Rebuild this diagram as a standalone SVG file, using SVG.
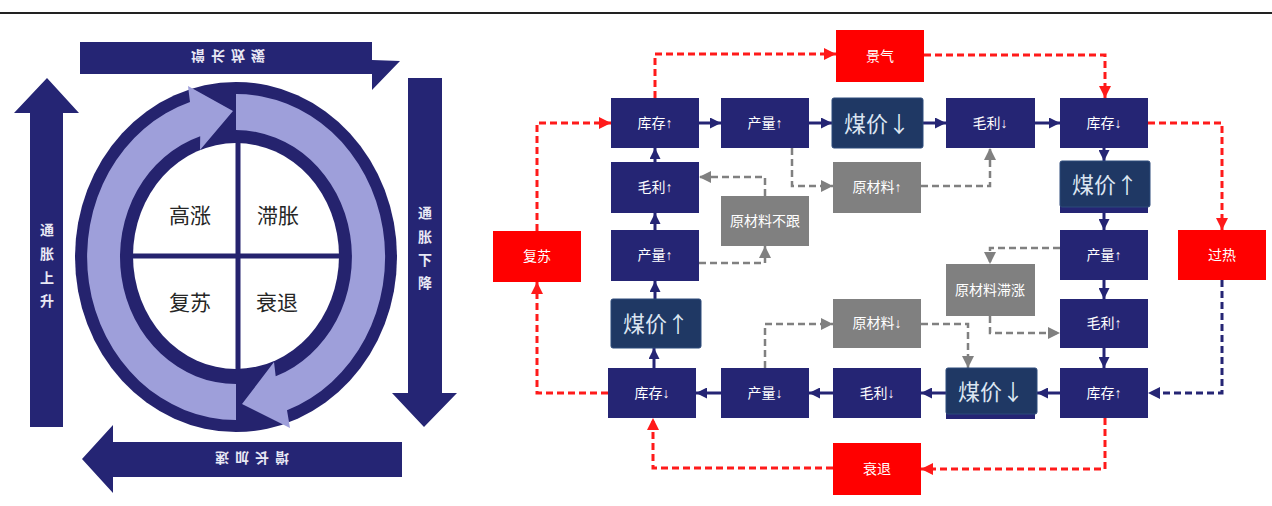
<svg xmlns="http://www.w3.org/2000/svg" width="1272" height="506" viewBox="0 0 1272 506">
<style>
.nv{fill:#252574}
.cp{fill:#1f3864;stroke:#2d4a7a;stroke-width:1}
.gr{fill:#808080}
.rd{fill:#ff0000}
.t{font-family:"Liberation Sans","Noto Sans CJK SC",sans-serif;font-size:14px;fill:#ffffff;text-anchor:middle;dominant-baseline:central}
.tb{font-family:"Noto Sans CJK SC","Liberation Sans",sans-serif;font-size:22px;fill:#dce6f2;text-anchor:middle;dominant-baseline:central}
.q{font-family:"Noto Sans CJK SC",sans-serif;font-size:21px;fill:#262626;text-anchor:middle;dominant-baseline:central}
.at{font-family:"Noto Sans CJK SC",sans-serif;font-size:14px;font-weight:bold;fill:#e8e8f4;text-anchor:middle;dominant-baseline:central}
.s{fill:none;stroke:#252574;stroke-width:3;marker-end:url(#mn)}
.r{fill:none;stroke:#ff1a1a;stroke-width:3;stroke-dasharray:7 4;marker-end:url(#mr)}
.g{fill:none;stroke:#808080;stroke-width:2.5;stroke-dasharray:7 4;marker-end:url(#mg)}
.d{fill:none;stroke:#252574;stroke-width:3;stroke-dasharray:7 4;marker-end:url(#md)}
</style>
<defs>
<marker id="mn" markerUnits="userSpaceOnUse" markerWidth="11" markerHeight="11" refX="11" refY="5.5" orient="auto"><path d="M0,0 L11,5.5 L0,11 z" fill="#252574"/></marker>
<marker id="mr" markerUnits="userSpaceOnUse" markerWidth="12" markerHeight="12" refX="12" refY="6" orient="auto"><path d="M0,0 L12,6 L0,12 z" fill="#ff1a1a"/></marker>
<marker id="mg" markerUnits="userSpaceOnUse" markerWidth="12" markerHeight="12" refX="12" refY="6" orient="auto"><path d="M0,0 L12,6 L0,12 z" fill="#808080"/></marker>
<marker id="md" markerUnits="userSpaceOnUse" markerWidth="12" markerHeight="12" refX="12" refY="6" orient="auto"><path d="M0,0 L12,6 L0,12 z" fill="#252574"/></marker>
</defs>
<rect width="1272" height="506" fill="#ffffff"/>
<line x1="0" y1="13" x2="1272" y2="13" stroke="#222222" stroke-width="2"/>

<!-- Left: clock diagram -->
<g id="clock">
<polygon class="nv" points="80,42 372,42 372,60 400,61 372,90 372,74 80,74"/>
<text class="at" transform="translate(231,57) scale(1,-1)" letter-spacing="6">增长放缓</text>
<polygon class="nv" points="408,78 442,78 442,393 457,393 424,427 392,393 408,393"/>
<g class="at"><text x="425" y="212">通</text><text x="425" y="236">胀</text><text x="425" y="259">下</text><text x="425" y="282">降</text></g>
<polygon class="nv" points="402,442 402,477 113,477 113,493 82,459 113,425 113,442"/>
<text class="at" transform="translate(249,459) rotate(180)" letter-spacing="6">增长加速</text>
<polygon class="nv" points="30,427 30,113 14,113 47,78 79,113 63,113 63,427"/>
<g class="at"><text x="47" y="229">通</text><text x="47" y="253">胀</text><text x="47" y="277">上</text><text x="47" y="300">升</text></g>
<ellipse cx="236" cy="257" rx="161" ry="175" fill="#25236e"/>
<path d="M236,420 A149,163 0 0 1 190,102 L188,86 L233,111 L200,150 L200.2,136.2 A116,127 0 0 0 236,384 Z" fill="#9e9fda"/>
<path d="M236,94 A149,163 0 0 1 287,410.2 L290,428 L242,404 L274,362 L275.7,376.3 A116,127 0 0 0 236,130 Z" fill="#9e9fda"/>
<ellipse cx="236" cy="256" rx="103" ry="113" fill="#ffffff"/>
<line x1="238" y1="143" x2="238" y2="369" stroke="#25236e" stroke-width="5"/>
<line x1="133" y1="256" x2="339" y2="256" stroke="#25236e" stroke-width="5"/>
<text class="q" x="190" y="214">高涨</text>
<text class="q" x="278" y="214">滞胀</text>
<text class="q" x="190" y="301">复苏</text>
<text class="q" x="277" y="301">衰退</text>
</g>

<!-- Right: flow diagram connectors -->
<g id="connectors">
<path class="s" d="M699,123 H721"/>
<path class="s" d="M809,123 H832"/>
<path class="s" d="M923,123 H946"/>
<path class="s" d="M1035,123 H1060"/>
<path class="s" d="M1104,148 V161"/>
<path class="s" d="M1104,213 V230"/>
<path class="s" d="M1104,280 V299"/>
<path class="s" d="M1104,348 V368"/>
<path class="s" d="M1060,393 H1037"/>
<path class="s" d="M946,393 H921"/>
<path class="s" d="M833,393 H809"/>
<path class="s" d="M721,393 H696"/>
<path class="s" d="M654,368 V348"/>
<path class="s" d="M655,299 V281"/>
<path class="s" d="M655,230 V213"/>
<path class="s" d="M655,162 V148"/>
<path class="r" d="M655,98 V54 H836"/>
<path class="r" d="M537,231 V123 H611"/>
<path class="r" d="M924,55 H1105 V98"/>
<path class="r" d="M1148,123 H1222 V230"/>
<path class="d" d="M1222,280 V393 H1148"/>
<path class="r" d="M1105,418 V469 H921"/>
<path class="r" d="M833,468 H653 V418"/>
<path class="r" d="M608,393 H537 V282"/>
<path class="g" d="M792,148 V186 H833"/>
<path class="g" d="M921,186 H990 V148"/>
<path class="g" d="M765,196 V177 H699"/>
<path class="g" d="M699,263 H765 V246"/>
<path class="g" d="M1060,248 H990 V264"/>
<path class="g" d="M990,316 V333 H1060"/>
<path class="g" d="M765,368 V324 H833"/>
<path class="g" d="M921,324 H968 V368"/>
</g>

<!-- Nodes -->
<g id="n-jingqi"><rect class="rd" x="836" y="30" width="88" height="52"/><text class="t" x="880" y="56">景气</text></g>
<g id="n-guore"><rect class="rd" x="1178" y="230" width="88" height="50"/><text class="t" x="1222" y="255">过热</text></g>
<g id="n-shuaitui"><rect class="rd" x="833" y="443" width="88" height="52"/><text class="t" x="877" y="469">衰退</text></g>
<g id="n-fusu"><rect class="rd" x="493" y="231" width="88" height="51"/><text class="t" x="537" y="256">复苏</text></g>

<g id="n-kc1"><rect class="nv" x="611" y="98" width="88" height="50"/><text class="t" x="655" y="123">库存↑</text></g>
<g id="n-cl1"><rect class="nv" x="721" y="98" width="88" height="50"/><text class="t" x="765" y="123">产量↑</text></g>
<g id="n-mj1"><rect class="cp" x="832" y="98" width="91" height="50" rx="2"/><text class="tb" x="877" y="122">煤价↓</text></g>
<g id="n-ml1"><rect class="nv" x="946" y="98" width="89" height="50"/><text class="t" x="990" y="123">毛利↓</text></g>
<g id="n-kc2"><rect class="nv" x="1060" y="98" width="88" height="50"/><text class="t" x="1104" y="123">库存↓</text></g>
<g id="n-mj2"><rect class="nv" x="1060" y="200" width="88" height="13"/><rect class="cp" x="1060" y="161" width="90" height="46" rx="2"/><text class="tb" x="1105" y="183">煤价↑</text></g>
<g id="n-cl2"><rect class="nv" x="1060" y="230" width="88" height="50"/><text class="t" x="1104" y="255">产量↑</text></g>
<g id="n-ml2"><rect class="nv" x="1060" y="299" width="88" height="49"/><text class="t" x="1104" y="323">毛利↑</text></g>
<g id="n-kc3"><rect class="nv" x="1060" y="368" width="88" height="50"/><text class="t" x="1104" y="393">库存↑</text></g>
<g id="n-mj3"><rect class="nv" x="946" y="405" width="89" height="14"/><rect class="cp" x="946" y="368" width="91" height="46" rx="2"/><text class="tb" x="991" y="390">煤价↓</text></g>
<g id="n-ml3"><rect class="nv" x="833" y="368" width="88" height="50"/><text class="t" x="877" y="393">毛利↓</text></g>
<g id="n-cl3"><rect class="nv" x="721" y="368" width="88" height="50"/><text class="t" x="765" y="393">产量↓</text></g>
<g id="n-kc4"><rect class="nv" x="608" y="368" width="88" height="50"/><text class="t" x="652" y="393">库存↓</text></g>
<g id="n-mj4"><rect class="cp" x="611" y="299" width="90" height="49" rx="2"/><text class="tb" x="656" y="322">煤价↑</text></g>
<g id="n-cl4"><rect class="nv" x="611" y="230" width="88" height="51"/><text class="t" x="655" y="255">产量↑</text></g>
<g id="n-ml4"><rect class="nv" x="611" y="162" width="88" height="51"/><text class="t" x="655" y="187">毛利↑</text></g>

<g id="n-ycl-bugen"><rect class="gr" x="721" y="196" width="88" height="50"/><text class="t" x="765" y="221">原材料不跟</text></g>
<g id="n-ycl-up"><rect class="gr" x="833" y="162" width="88" height="51"/><text class="t" x="877" y="187">原材料↑</text></g>
<g id="n-ycl-zhizhang"><rect class="gr" x="946" y="264" width="89" height="52"/><text class="t" x="990" y="290">原材料滞涨</text></g>
<g id="n-ycl-down"><rect class="gr" x="833" y="299" width="88" height="49"/><text class="t" x="877" y="323">原材料↓</text></g>
</svg>
